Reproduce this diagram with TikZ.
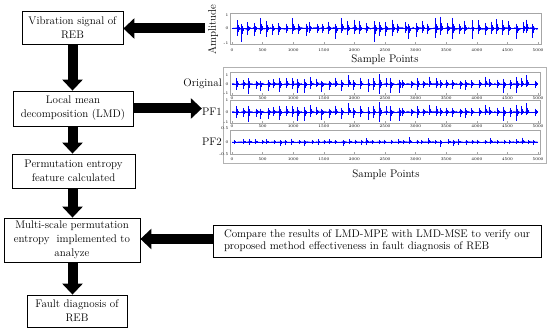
\documentclass[tikz,border=0pt]{standalone}
\usetikzlibrary{arrows.meta}
\begin{document}
\begin{tikzpicture}[x=1pt,y=-1pt,
  box/.style={draw,line width=0.8pt,inner sep=1pt,align=center,font=\fontsize{11}{14}\selectfont},
  blockarrow/.style={line width=10pt,-{Triangle[width=20pt,length=11pt]}},
  sigline/.style={blue,line width=0.45pt},
  axisbox/.style={draw=gray!70,line width=0.5pt},
  tick/.style={font=\fontsize{4}{5}\selectfont,inner sep=0.5pt},
  lab/.style={font=\fontsize{11}{13}\selectfont,inner sep=0pt}]
\useasboundingbox (0,0) rectangle (550,331);
\fill[white] (0,0) rectangle (550,331);

% flow boxes
\node[box,minimum width=101pt,minimum height=33pt] (b1) at (72.5,27.5) {Vibration signal of\\REB};
\node[box,minimum width=120pt,minimum height=35pt] (b2) at (73,108.5) {Local mean\\decomposition (LMD)};
\node[box,minimum width=123pt,minimum height=34pt] (b3) at (73.5,171) {Permutation entropy\\feature calculated};
\node[box,minimum width=136pt,minimum height=44pt] (b4) at (72,240) {Multi-scale permutation\\entropy\ \ implemented to\\analyze};
\node[box,minimum width=100pt,minimum height=32pt] (b5) at (77,311) {Fault diagnosis of\\REB};
\node[box,align=left,minimum width=328pt,minimum height=32pt,font=\fontsize{11}{12.5}\selectfont,inner xsep=3pt] (cmp) at (377,241) {Compare the results of LMD-MPE with LMD-MSE to verify our\\proposed method effectiveness in fault diagnosis of REB};

% plot labels
\node[lab,rotate=90] (amp) at (213,30) {Amplitude};
\node[lab] (sp1) at (385,60) {Sample Points};
\node[lab] (sp2) at (386,175) {Sample Points};
\node[lab,anchor=east] (orig) at (222,84) {Original};
\node[lab,anchor=east] (pf1) at (222,112) {PF1};
\node[lab,anchor=east] (pf2) at (222,142) {PF2};

% arrows
\coordinate (col) at (72.5,0);
\coordinate (src) at (205,28.5);
\draw[blockarrow] (src) -- (src -| b1.east);
\draw[blockarrow] (b1.south -| col) -- (b2.north -| col);
\draw[blockarrow] (b2.east) -- (pf1.west |- b2.east);
\draw[blockarrow] (b2.south -| col) -- (b3.north -| col);
\draw[blockarrow] (b3.south -| col) -- (b4.north -| col);
\draw[blockarrow] (b4.south -| col) -- (b5.north -| col);
\coordinate (cmpin) at (213,239);
\draw[blockarrow] (cmpin) -- (cmpin -| b4.east);

% signal macro: x0 x1 yzero amp seed
\newcommand{\sigplot}[5]{%
  \pgfmathsetseed{#5}%
  \draw[blue,line width=0.9pt] (#1,#3) -- (#2,#3);
  \draw[sigline] plot[domain=#1:#2,samples=200] (\x,{#3+#4*0.08*rand});
  \foreach \k in {0,...,48}{%
    \pgfmathsetmacro\xx{#1+4+\k*((#2)-(#1)-8)/48+1.5*rand}%
    \pgfmathsetmacro\ha{#4*(0.3+0.7*rnd*rnd)}%
    \pgfmathsetmacro\hb{#4*(0.3+0.7*rnd*rnd)}%
    \draw[sigline] (\xx,#3-\hb) -- (\xx,#3+\ha);
    \draw[sigline,line width=0.3pt] (\xx+0.9,#3-0.45*\hb) -- (\xx+0.9,#3+0.45*\ha);
    \draw[sigline,line width=0.3pt] (\xx+1.8,#3-0.2*\hb) -- (\xx+1.8,#3+0.2*\ha);
  }%
}
\newcommand{\xticks}[3]{% ytop ybottom ylabel
  \foreach \s in {0,500,...,5000}{%
    \pgfmathsetmacro\xs{232+\s/5000*306}%
    \draw[gray!70,line width=0.3pt] (\xs,#1) -- (\xs,#1+1.5) (\xs,#2) -- (\xs,#2-1.5);
    \node[tick] at (\xs,#3) {\s};
  }%
}

% top plot
\sigplot{232}{538}{28.5}{15}{11}
\draw[axisbox] (230,13) rectangle (541,44);
\xticks{13}{44}{50}
\node[tick,anchor=east] at (229,15) {1};
\node[tick,anchor=east] at (229,28.5) {0};
\node[tick,anchor=east] at (229,43) {-1};

% decomposition panel
\draw[gray!60,line width=0.8pt] (223,67) rectangle (546,163);
\sigplot{232}{538}{84}{11}{23}
\draw[axisbox] (230,72) rectangle (540,95);
\xticks{72}{95}{98}
\node[tick,anchor=east] at (229,75) {1};
\node[tick,anchor=east] at (229,84) {0};
\node[tick,anchor=east] at (229,93) {-1};
\sigplot{232}{538}{112}{11}{23}
\draw[axisbox] (230,100) rectangle (540,123);
\xticks{100}{123}{126.5}
\node[tick,anchor=east] at (229,100.5) {1};
\node[tick,anchor=east] at (229,112) {0};
\node[tick,anchor=east] at (229,122.5) {-1};
\sigplot{232}{538}{142}{5}{37}
\draw[axisbox] (230,130) rectangle (540,154);
\xticks{130}{154}{159}
\node[tick,anchor=east] at (229,128) {0.5};
\node[tick,anchor=east] at (229,142) {0};
\node[tick,anchor=east] at (229,154) {-0.5};
\end{tikzpicture}
\end{document}
